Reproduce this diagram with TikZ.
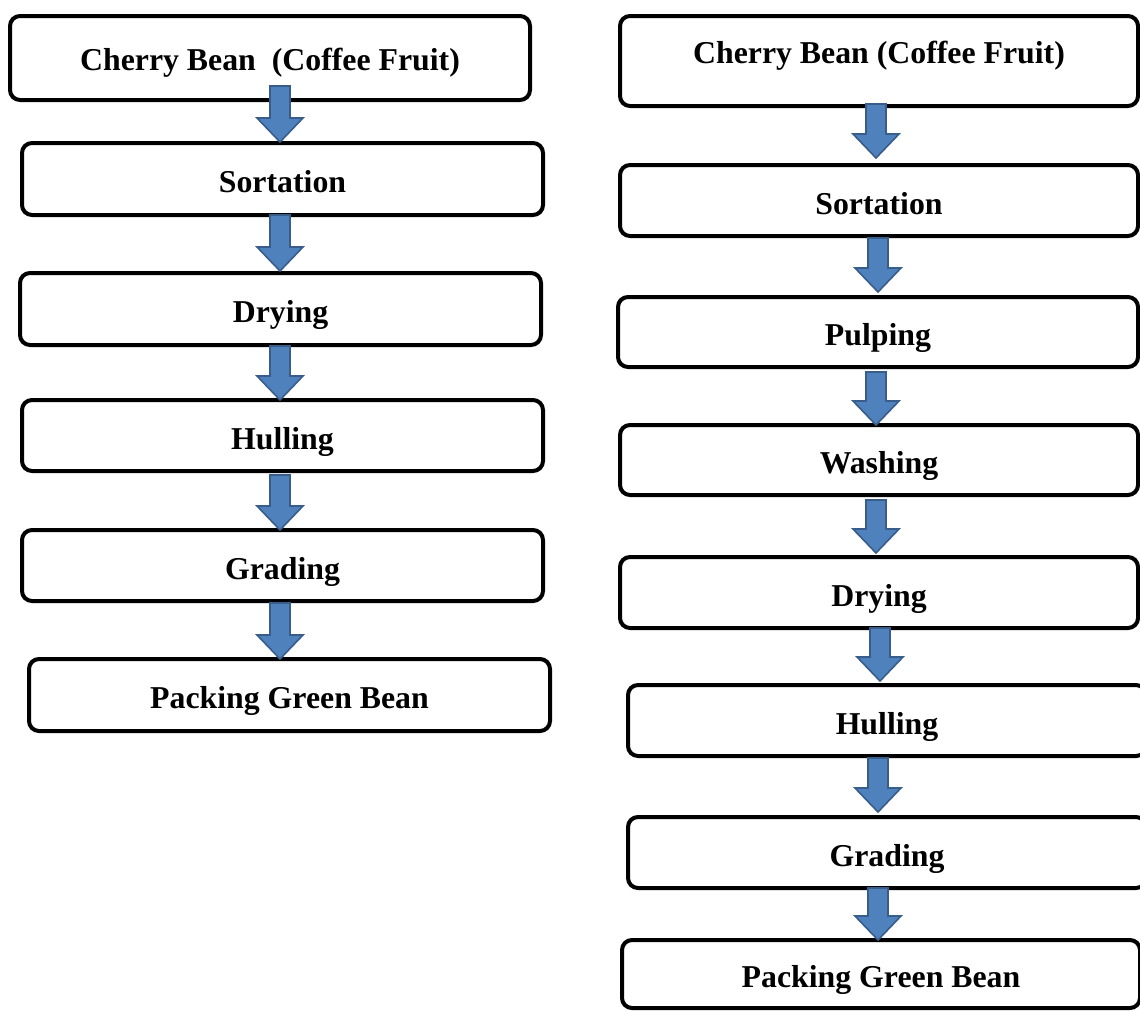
\documentclass[tikz,border=0pt]{standalone}
\usepackage{fontspec}
\setmainfont{Liberation Serif}
\usetikzlibrary{calc}
\definecolor{arrfill}{HTML}{4F81BD}
\definecolor{arrline}{HTML}{385D8A}
\begin{document}
\begin{tikzpicture}[x=1pt,y=-1pt,
  box/.style={draw=black, line width=4pt, rounded corners=10pt, fill=white,
    font=\fontsize{31.8}{36}\selectfont\bfseries, inner sep=0pt,
    text height=27pt, text depth=0pt},
  blockarrow/.style={fill=arrfill, draw=arrline, line width=1.6pt, line join=miter,
    to path={($(\tikztostart)+(-10pt,0pt)$) -- ($(\tikztotarget)+(-10pt,24pt)$)
      -- ($(\tikztotarget)+(-23pt,24pt)$) -- (\tikztotarget)
      -- ($(\tikztotarget)+(23pt,24pt)$) -- ($(\tikztotarget)+(10pt,24pt)$)
      -- ($(\tikztostart)+(10pt,0pt)$) -- cycle}}]
\useasboundingbox (0,0) rectangle (1140,1010);
% left column
\node[box, minimum width=520pt, minimum height=84pt, text height=25pt] (L1) at (270,58) {Cherry Bean~ (Coffee Fruit)};
\node[box, minimum width=521pt, minimum height=72pt] (L2) at (282.5,179) {Sortation};
\node[box, minimum width=521pt, minimum height=72pt] (L3) at (280.5,309) {Drying};
\node[box, minimum width=521pt, minimum height=71pt] (L4) at (282.5,435.5) {Hulling};
\node[box, minimum width=521pt, minimum height=71pt] (L5) at (282.5,565.5) {Grading};
\node[box, minimum width=521pt, minimum height=72pt] (L6) at (289.5,695) {Packing Green Bean};
% right column
\node[box, minimum width=518pt, minimum height=90pt, text height=21pt, text depth=16pt] (R1) at (879,61) {Cherry Bean (Coffee Fruit)};
\node[box, minimum width=518pt, minimum height=71pt] (R2) at (879,200.5) {Sortation};
\node[box, minimum width=520pt, minimum height=70pt] (R3) at (878,332) {Pulping};
\node[box, minimum width=518pt, minimum height=70pt] (R4) at (879,460) {Washing};
\node[box, minimum width=518pt, minimum height=71pt] (R5) at (879,592.5) {Drying};
\node[box, minimum width=518pt, minimum height=71pt] (R6) at (887,720.5) {Hulling};
\node[box, minimum width=518pt, minimum height=71pt] (R7) at (887,852.5) {Grading};
\node[box, minimum width=518pt, minimum height=68pt] (R8) at (881,974) {Packing Green Bean};
% arrow end points
\coordinate (la1s) at (280,86);  \coordinate (la1e) at (280,142);
\coordinate (la2s) at (280,215); \coordinate (la2e) at (280,271);
\coordinate (la3s) at (280,346); \coordinate (la3e) at (280,400);
\coordinate (la4s) at (280,475); \coordinate (la4e) at (280,530);
\coordinate (la5s) at (280,603); \coordinate (la5e) at (280,659);
\coordinate (ra1s) at (876,104); \coordinate (ra1e) at (876,158);
\coordinate (ra2s) at (878,238); \coordinate (ra2e) at (878,292);
\coordinate (ra3s) at (876,372); \coordinate (ra3e) at (876,425);
\coordinate (ra4s) at (876,500); \coordinate (ra4e) at (876,553);
\coordinate (ra5s) at (880,628); \coordinate (ra5e) at (880,681);
\coordinate (ra6s) at (878,758); \coordinate (ra6e) at (878,812);
\coordinate (ra7s) at (878,888); \coordinate (ra7e) at (878,940);
\foreach \a in {la1,la2,la3,la4,la5,ra1,ra2,ra3,ra4,ra5,ra6,ra7}
  \draw[blockarrow] (\a s) to (\a e);
\end{tikzpicture}
\end{document}
